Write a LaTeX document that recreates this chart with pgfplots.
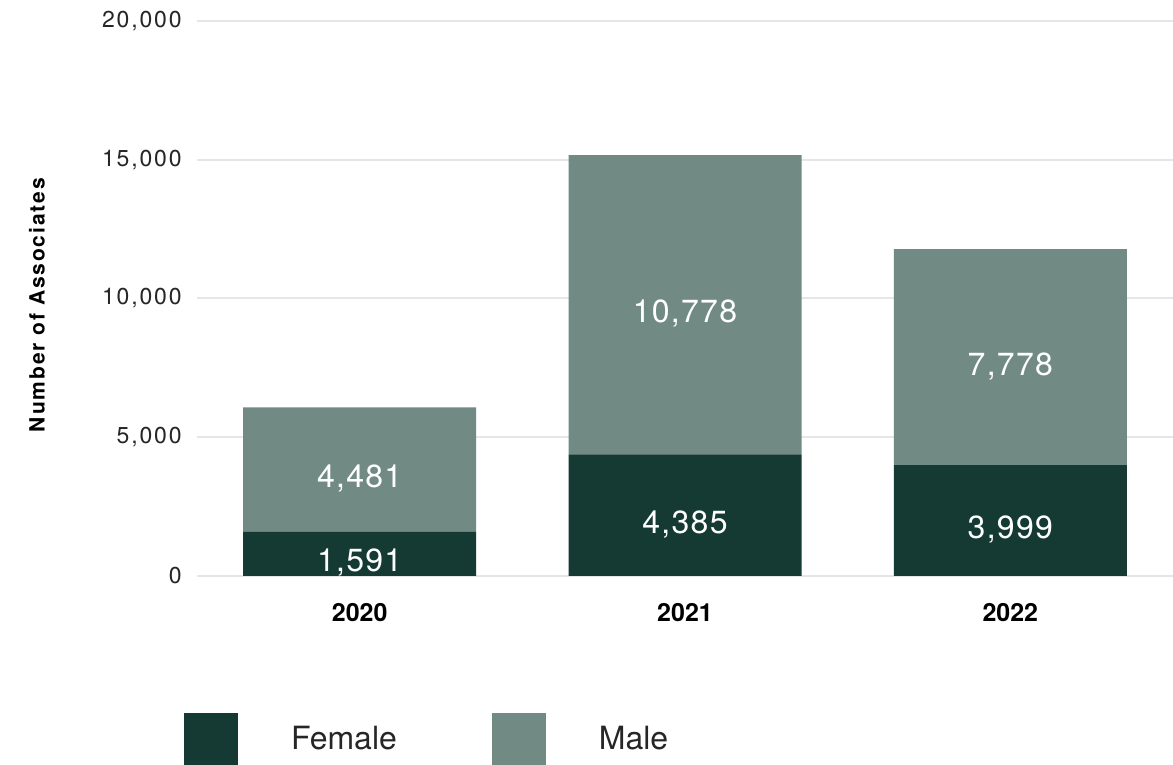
\documentclass[border=0pt]{standalone}
\usepackage{fontspec}
\setmainfont{TeX Gyre Heros}
\newfontfamily\tickfont[LetterSpace=8]{TeX Gyre Heros}
\newfontfamily\labfont[LetterSpace=9]{TeX Gyre Heros}
\newfontfamily\barfont[LetterSpace=4]{TeX Gyre Heros}
\usepackage{pgfplots}
\pgfplotsset{compat=1.18}
\definecolor{female}{HTML}{143A33}
\definecolor{male}{HTML}{718A84}
\definecolor{gridc}{HTML}{E6E6E6}
\begin{document}
\begin{tikzpicture}
\useasboundingbox (0,0) rectangle (586.5pt,382.5pt);
\begin{axis}[
  at={(98.5pt,94.5pt)}, anchor=south west,
  scale only axis, width=488pt, height=277.5pt,
  xmin=-0.5, xmax=2.5, ymin=0, ymax=20000,
  clip=false,
  ybar stacked, bar width=116.5pt,
  axis line style={draw=none},
  major tick length=0pt,
  xtick={0,1,2}, xticklabels={2020,2021,2022},
  ytick={0,5000,10000,15000,20000},
  scaled y ticks=false,
  ymajorgrids, major grid style={gridc, line width=1pt},
  /pgf/number format/assume math mode=true,
  /pgf/number format/1000 sep={,},
  yticklabel style={font=\tickfont\fontsize{11.5}{13}\selectfont, color=black!85, inner sep=0pt, anchor=east, xshift=-7.5pt},
  xticklabel style={font=\bfseries\fontsize{12.5}{14}\selectfont, inner sep=0pt, anchor=center, yshift=-18.5pt},
  ylabel={Number of Associates},
  ylabel style={font=\labfont\bfseries\fontsize{10.5}{12}\selectfont, at={(axis description cs:-0.164,0.488)}, anchor=center},
  visualization depends on={rawy \as \rawy},
  nodes near coords={\pgfmathprintnumber{\rawy}},
  nodes near coords align={anchor=center},
  every node near coord/.append style={font=\barfont\fontsize{16}{18}\selectfont, white, inner sep=0pt, yshift=-4.5pt},
  legend columns=2,
  legend cell align=left,
  legend style={draw=none, fill=none, inner sep=0pt, outer sep=0pt,
    at={(axis description cs:-0.0133,-0.3405)}, anchor=south west,
    font=\fontsize{16}{18}\selectfont, text=black!85,
    nodes={inner sep=0pt},
    /tikz/every odd column/.append style={column sep=26.5pt},
    /tikz/every even column/.append style={column sep=47.5pt}},
  legend image code/.code={\fill[#1] (0pt,-13pt) rectangle (27pt,13pt);},
]
\addplot[fill=female, draw=none] coordinates {(0,1591) (1,4385) (2,3999)};
\addplot[fill=male, draw=none] coordinates {(0,4481) (1,10778) (2,7778)};
\legend{Female, Male}
\end{axis}
\end{tikzpicture}
\end{document}
